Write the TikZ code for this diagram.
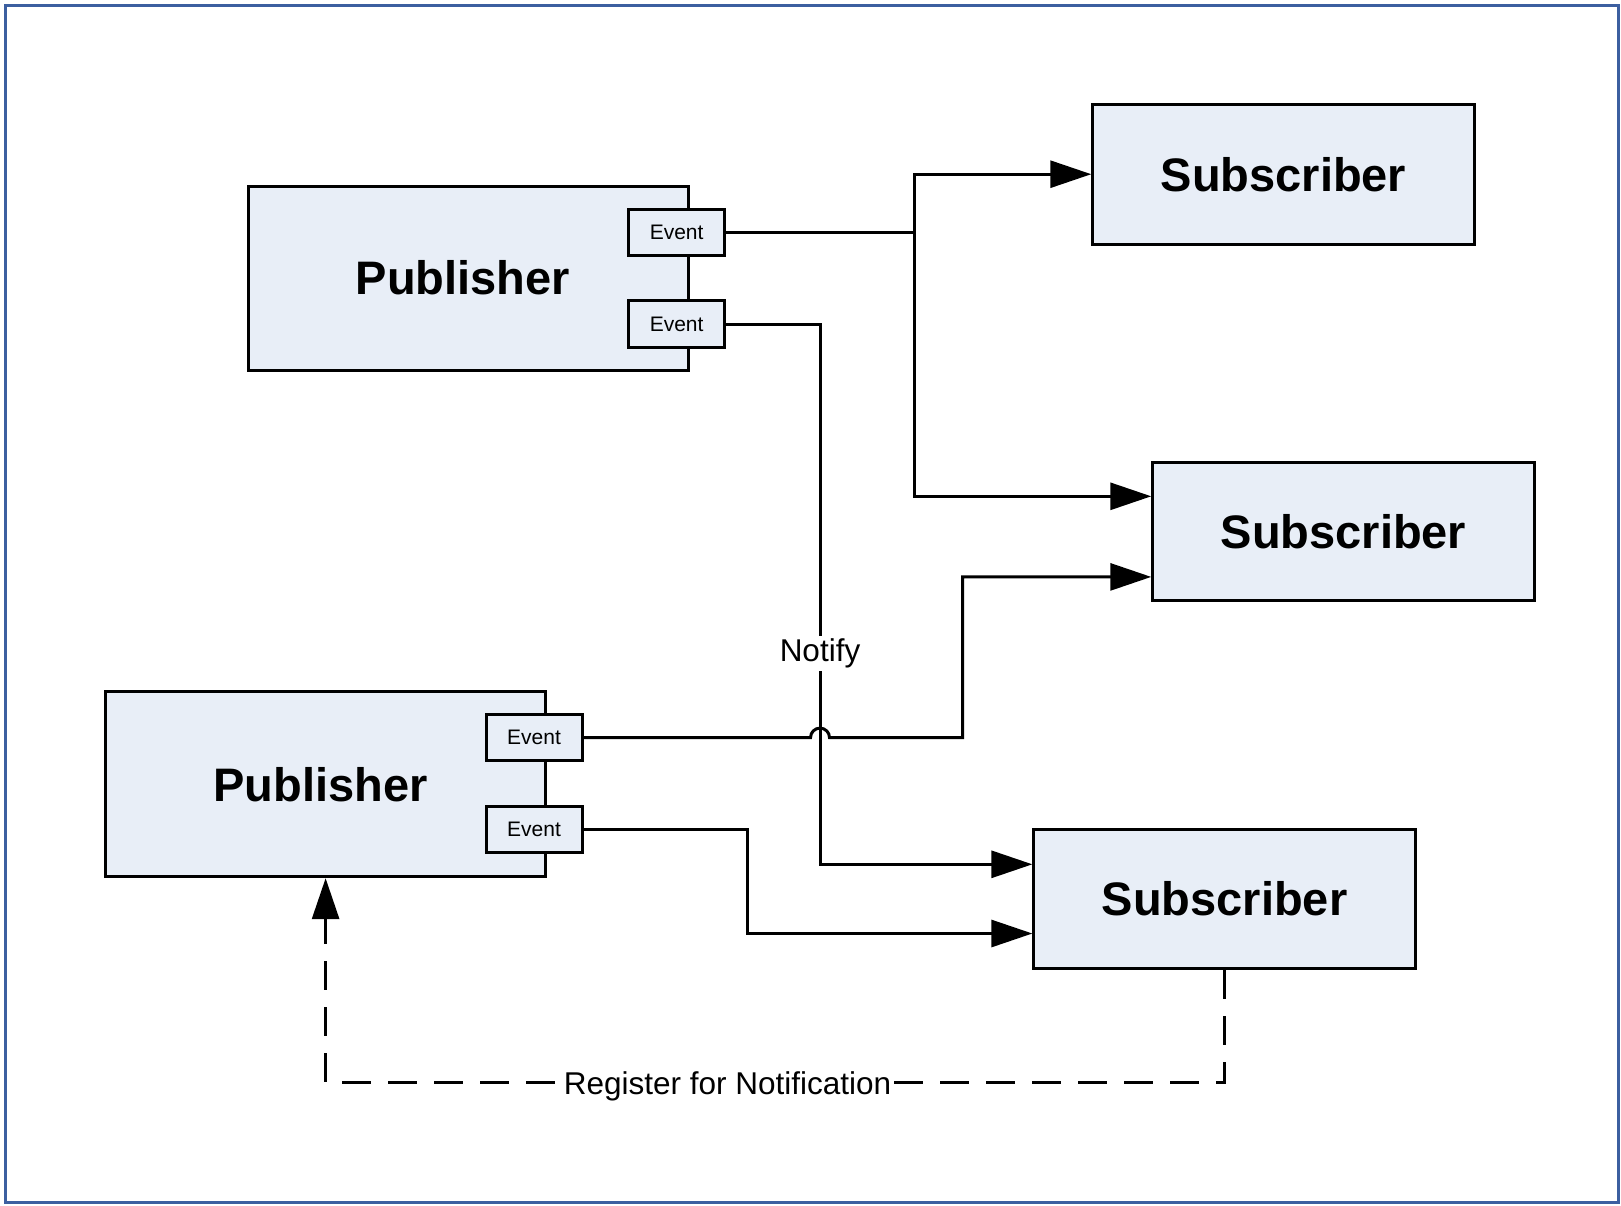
\documentclass[tikz,border=0pt]{standalone}
\usepackage{fontspec}
\setmainfont{Liberation Sans}
\usetikzlibrary{arrows.meta}
\definecolor{boxfill}{RGB}{232,238,247}
\definecolor{frameblue}{RGB}{60,95,160}
\tikzset{
  mainbox/.style={draw, fill=boxfill, line width=3pt, inner sep=0pt,
    font=\fontsize{47}{56}\selectfont\bfseries},
  evbox/.style={draw, fill=boxfill, line width=3pt, inner sep=0pt,
    minimum width=96pt, minimum height=46.5pt,
    font=\fontsize{21}{25}\selectfont},
  conn/.style={line width=3pt},
  flow/.style={conn, -{Triangle[length=41pt,width=27pt]}},
  regline/.style={flow, dash pattern=on 29pt off 17pt},
  lbl/.style={fill=white, font=\fontsize{31.5}{38}\selectfont}
}
\begin{document}
\begin{tikzpicture}[x=1pt,y=-1pt]
  \useasboundingbox (0,0) rectangle (1621,1205);
  \draw[frameblue, line width=3pt] (5,5) rectangle (1618,1202);

  % publishers with their event ports (title set a little left of centre)
  \node[mainbox, minimum width=440pt, minimum height=184pt] (pubA) at (468,278) {\hspace*{-10pt}Publisher};
  \node[evbox] (evA1) at (676.6,232.3) {Event};
  \node[evbox] (evA2) at (676.6,324.2) {Event};

  \node[mainbox, minimum width=440pt, minimum height=185pt] (pubB) at (325.6,784.2) {\hspace*{-10pt}Publisher};
  \node[evbox] (evB1) at (534,737.6) {Event};
  \node[evbox] (evB2) at (534,829.6) {Event};

  % subscribers
  \node[mainbox, minimum width=381.5pt, minimum height=139.6pt] (subA) at (1283.5,174.2) {Subscriber};
  \node[mainbox, minimum width=381.5pt, minimum height=138.6pt] (subB) at (1343.5,531.3) {Subscriber};
  \node[mainbox, minimum width=381.5pt, minimum height=139.7pt] (subC) at (1224.6,898.9) {Subscriber};

  % routing points
  \coordinate (jA) at (914,232.3);
  \coordinate (vx) at (820,0);
  \coordinate (jx) at (962.5,0);
  \coordinate (kx) at (747.4,0);
  \coordinate (rx) at (0,1082.4);
  \coordinate (b1) at ([yshift=35pt]subB.west);
  \coordinate (b2) at ([yshift=-45.6pt]subB.west);
  \coordinate (c1) at ([yshift=34.6pt]subC.west);
  \coordinate (c2) at ([yshift=-34.6pt]subC.west);

  % first publisher, upper event: fans out to two subscribers
  \draw[conn] (evA1.east) -- (jA);
  \draw[flow] (jA) |- (subA.west);
  \draw[flow] (jA) |- (b1);

  % first publisher, lower event
  \draw[flow] (evA2.east) -| (vx |- c1) -- (c1);
  \node[lbl, inner sep=3pt] (notify) at (820,653.5) {Notify};

  % second publisher, upper event: hops over the vertical line
  \draw[flow] (evB1.east) -- ([xshift=-9.5pt]vx |- evB1.east)
    arc[start angle=180, end angle=0, radius=9.5pt]
    -- (jx |- evB1.east) |- (b2);

  % second publisher, lower event
  \draw[flow] (evB2.east) -| (kx |- c2) -- (c2);

  % registration
  \draw[regline] (subC.south) |- (pubB.south |- rx) -- (pubB.south);
  \node[lbl, inner xsep=1pt, inner ysep=3pt] (register) at (727.5,1086.5) {Register for Notification};
\end{tikzpicture}
\end{document}
